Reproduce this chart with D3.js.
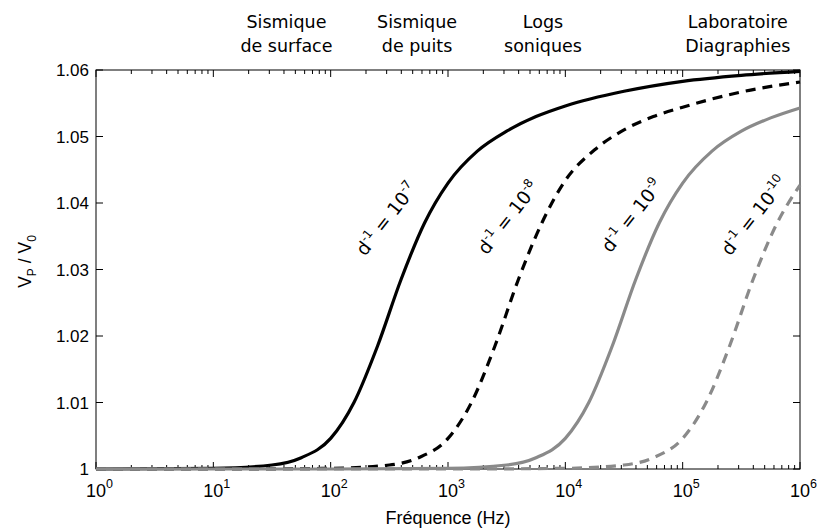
<!DOCTYPE html>
<meta charset="utf-8">
<head>
  <script src="https://d3js.org/d3.v7.min.js"></script>
  <style>
    body { margin: 0; background: #fff; }
    text { font-family: "Liberation Sans", Arial, sans-serif; fill: #000; }
    .note { font-family: "DejaVu Sans", sans-serif; }
  </style>
</head>
<body>
<script>
// curves: V_P / V_0 against frequency (Hz), one per d^-1 value
const f7  = [1, 10, 31.6, 56.2, 100, 158, 251, 398, 631, 1000, 1778, 3162, 5623, 1e4, 3.16e4, 1e5, 3.16e5, 1e6];
const vp7 = [1.0000, 1.0001, 1.0006, 1.0017, 1.0046, 1.0100, 1.0185, 1.0285, 1.0370, 1.0430, 1.0478, 1.0508, 1.0530, 1.0546, 1.0568, 1.0583, 1.0592, 1.0598];

const f8  = [1, 10, 100, 316, 562, 1000, 1585, 2512, 3981, 6310, 1e4, 1.778e4, 3.162e4, 5.623e4, 1e5, 3.16e5, 1e6];
const vp8 = [1.0000, 1.0000, 1.0001, 1.0006, 1.0017, 1.0046, 1.0100, 1.0185, 1.0285, 1.0370, 1.0434, 1.0480, 1.0510, 1.0530, 1.0544, 1.0567, 1.0582];

const f9  = [1, 100, 1000, 3162, 5623, 1e4, 1.585e4, 2.512e4, 3.981e4, 6.31e4, 1e5, 1.778e5, 3.162e5, 5.623e5, 1e6];
const vp9 = [1.0000, 1.0000, 1.0001, 1.0006, 1.0017, 1.0046, 1.0100, 1.0185, 1.0285, 1.0370, 1.0430, 1.0478, 1.0508, 1.0528, 1.0543];

const f10  = [1, 1000, 1e4, 3.162e4, 5.623e4, 1e5, 1.585e5, 2.512e5, 3.981e5, 6.31e5, 1e6];
const vp10 = [1.0000, 1.0000, 1.0001, 1.0006, 1.0017, 1.0046, 1.0100, 1.0185, 1.0285, 1.0368, 1.0427];

const exps = ["-7", "-8", "-9", "-10"];
const labelFreq = [330, 3600, 4.1e4, 4.5e5];   // where each d^-1 label sits
const labelVp = [1.0370, 1.0372, 1.0375, 1.0375];

const bandTop = ["Sismique", "Sismique", "Logs", "Laboratoire"];
const bandBottom = ["de surface", "de puits", "soniques", "Diagraphies"];
const bandFreq = [42, 545, 6450, 2.95e5];

const xTicks = [1, 10, 100, 1000, 1e4, 1e5, 1e6];
const yTicks = [1, 1.01, 1.02, 1.03, 1.04, 1.05, 1.06];

const W = 818, H = 530;
const m = {left: 96, right: 18, top: 70, bottom: 61};

const x = d3.scaleLog().domain([1, 1e6]).range([m.left, W - m.right]);
const y = d3.scaleLinear().domain([1, 1.06]).range([H - m.bottom, m.top]);

const svg = d3.select("body").append("svg")
  .attr("width", W).attr("height", H);

// box
svg.append("rect")
  .attr("x", x(1)).attr("y", y(1.06))
  .attr("width", x(1e6) - x(1)).attr("height", y(1) - y(1.06))
  .attr("fill", "none").attr("stroke", "#000").attr("stroke-width", 1);

// log ticks, inward, top and bottom
const minor = [];
for (let e = 0; e < 6; e++) for (let k = 2; k <= 9; k++) minor.push(k * Math.pow(10, e));
const tk = svg.append("g").attr("stroke", "#000").attr("stroke-width", 1);
xTicks.forEach(v => {
  tk.append("line").attr("x1", x(v)).attr("x2", x(v)).attr("y1", y(1)).attr("y2", y(1) - 7);
  tk.append("line").attr("x1", x(v)).attr("x2", x(v)).attr("y1", y(1.06)).attr("y2", y(1.06) + 7);
});
minor.forEach(v => {
  tk.append("line").attr("x1", x(v)).attr("x2", x(v)).attr("y1", y(1)).attr("y2", y(1) - 4);
  tk.append("line").attr("x1", x(v)).attr("x2", x(v)).attr("y1", y(1.06)).attr("y2", y(1.06) + 4);
});
yTicks.forEach(v => {
  tk.append("line").attr("x1", x(1)).attr("x2", x(1) + 7).attr("y1", y(v)).attr("y2", y(v));
  tk.append("line").attr("x1", x(1e6)).attr("x2", x(1e6) - 7).attr("y1", y(v)).attr("y2", y(v));
});

// tick labels
xTicks.forEach((v, i) => {
  const t = svg.append("text").attr("x", x(v) - 10).attr("y", y(1) + 28)
    .style("font-size", "18px");
  t.append("tspan").text("10");
  t.append("tspan").attr("dy", -9).style("font-size", "12.5px").text(i);
});
yTicks.forEach(v => {
  svg.append("text").attr("x", x(1) - 7).attr("y", y(v) + 6)
    .attr("text-anchor", "end").style("font-size", "17px")
    .text(v === 1 ? "1" : v.toFixed(2));
});

// axis titles
svg.append("text").attr("x", (x(1) + x(1e6)) / 2).attr("y", H - 6)
  .attr("text-anchor", "middle").style("font-size", "18px").text("Fréquence (Hz)");

const yl = svg.append("text")
  .attr("transform", `translate(31,${(y(1) + y(1.06)) / 2 - 8}) rotate(-90)`)
  .attr("text-anchor", "middle").style("font-size", "17.5px");
yl.append("tspan").text("V");
yl.append("tspan").attr("dy", 5).style("font-size", "12px").text("P");
yl.append("tspan").attr("dy", -5).text(" / V");
yl.append("tspan").attr("dy", 5).style("font-size", "12px").text("0");

// curves
const line = d3.line().x(d => x(d[0])).y(d => y(d[1])).curve(d3.curveMonotoneX);
const series = [
  {f: f7, v: vp7, color: "#000", dash: null},
  {f: f8, v: vp8, color: "#000", dash: "10,7"},
  {f: f9, v: vp9, color: "#8a8a8a", dash: null},
  {f: f10, v: vp10, color: "#8a8a8a", dash: "10,7"}
];
series.forEach(s => {
  svg.append("path")
    .datum(s.f.map((f, i) => [f, s.v[i]]))
    .attr("d", line)
    .attr("fill", "none")
    .attr("stroke", s.color)
    .attr("stroke-width", 3.2)
    .attr("stroke-dasharray", s.dash);
});

// d^-1 labels
exps.forEach((e, i) => {
  const t = svg.append("text").attr("class", "note")
    .attr("transform", `translate(${x(labelFreq[i])},${y(labelVp[i])}) rotate(-52)`)
    .attr("text-anchor", "middle").style("font-size", "18.5px");
  t.append("tspan").text("d");
  t.append("tspan").attr("dy", -8).style("font-size", "12px").text("-1");
  t.append("tspan").attr("dy", 8).text(" = 10");
  t.append("tspan").attr("dy", -8).style("font-size", "12px").text(e);
});

// frequency band labels
bandFreq.forEach((f, i) => {
  svg.append("text").attr("class", "note").attr("x", x(f)).attr("y", 28)
    .attr("text-anchor", "middle").style("font-size", "17.5px").text(bandTop[i]);
  svg.append("text").attr("class", "note").attr("x", x(f)).attr("y", 52)
    .attr("text-anchor", "middle").style("font-size", "17.5px").text(bandBottom[i]);
});
</script>
</body>
</html>
